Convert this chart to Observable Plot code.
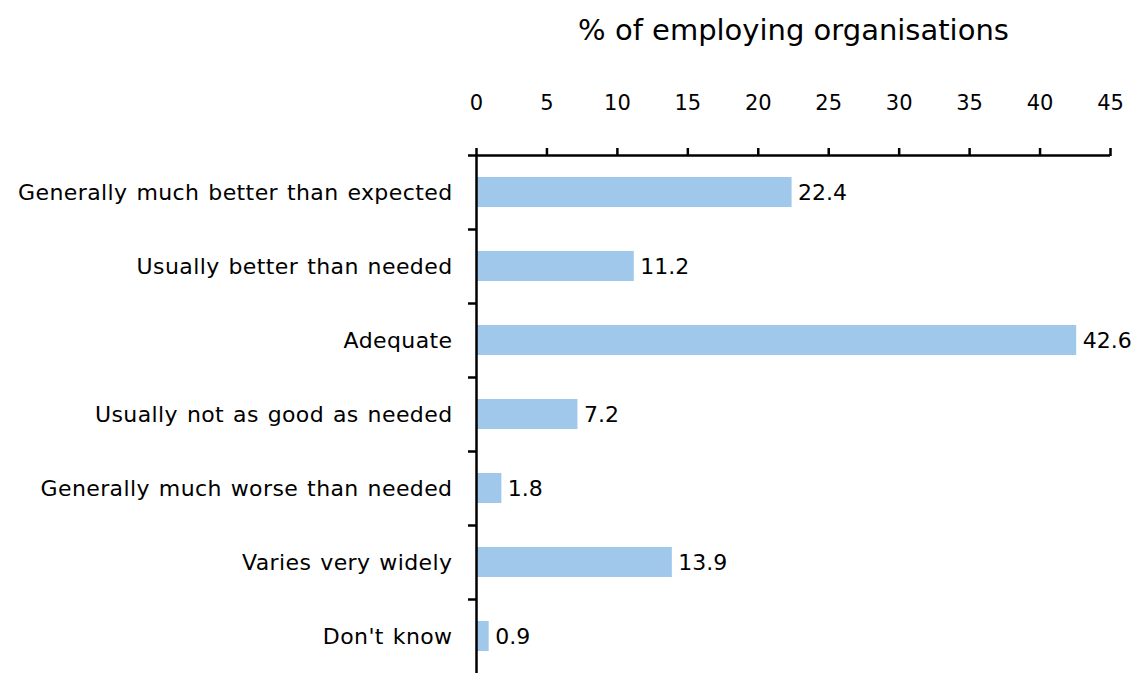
<!DOCTYPE html>
<html>
<head>
<meta charset="utf-8">
<script src="https://cdn.jsdelivr.net/npm/d3@7"></script>
<script src="https://cdn.jsdelivr.net/npm/@observablehq/plot@0.6"></script>
<style>
  html, body { margin: 0; padding: 0; background: #fff; }
  #chart svg { display: block; }
  #chart [aria-label="y-axis tick label"] text { word-spacing: 1.5px; letter-spacing: 0.4px; }
  #chart [aria-label="x-axis tick label"] { font-size: 21px; }
</style>
</head>
<body>
<div id="chart"></div>
<script>
const categories = [
  "Generally much better than expected",
  "Usually better than needed",
  "Adequate",
  "Usually not as good as needed",
  "Generally much worse than needed",
  "Varies very widely",
  "Don't know"
];
const values = [22.4, 11.2, 42.6, 7.2, 1.8, 13.9, 0.9];
const xTicks = [0, 5, 10, 15, 20, 25, 30, 35, 40, 45];
const title = "% of employing organisations";

const data = categories.map((c, i) => ({category: c, value: values[i]}));
const FONT = "'DejaVu Sans', sans-serif";

const plot = Plot.plot({
  width: 1134,
  height: 673,
  marginTop: 155,
  marginBottom: 0,
  marginLeft: 476,
  marginRight: 24,
  style: {fontFamily: FONT, fontSize: "22px", color: "#000", background: "#fff"},
  x: {domain: [0, 45], axis: null},
  y: {domain: categories, paddingInner: 0.6, paddingOuter: 0.3, axis: null},
  marks: [
    Plot.barX(data, {x: "value", y: "category", fill: "#a0c8eb"}),
    Plot.text(data, {x: "value", y: "category", text: d => d.value.toFixed(1), textAnchor: "start", dx: 6, fill: "#000", fontSize: 22}),
    Plot.ruleY([categories[0]], {x1: 0, x2: 45, dy: -37, stroke: "#000", strokeWidth: 2.5}),
    Plot.axisX({anchor: "top", ticks: xTicks, tickSize: 8, tickPadding: 38, tickFormat: d => String(d), fontSize: 21, label: null, stroke: "#000", strokeWidth: 2.5}),
    Plot.axisY({anchor: "left", tickSize: 8, text: null, dy: -37, stroke: "#000", strokeWidth: 2.5, label: null}),
    Plot.axisY({anchor: "left", tickSize: 0, tickPadding: 24, fontSize: 22, label: null}),
    Plot.ruleX([0], {stroke: "#000", strokeWidth: 2.5}),
    Plot.text([title], {frameAnchor: "top", dy: -136, fontSize: 29, fill: "#000"})
  ]
});
document.getElementById("chart").appendChild(plot);
</script>
</body>
</html>
